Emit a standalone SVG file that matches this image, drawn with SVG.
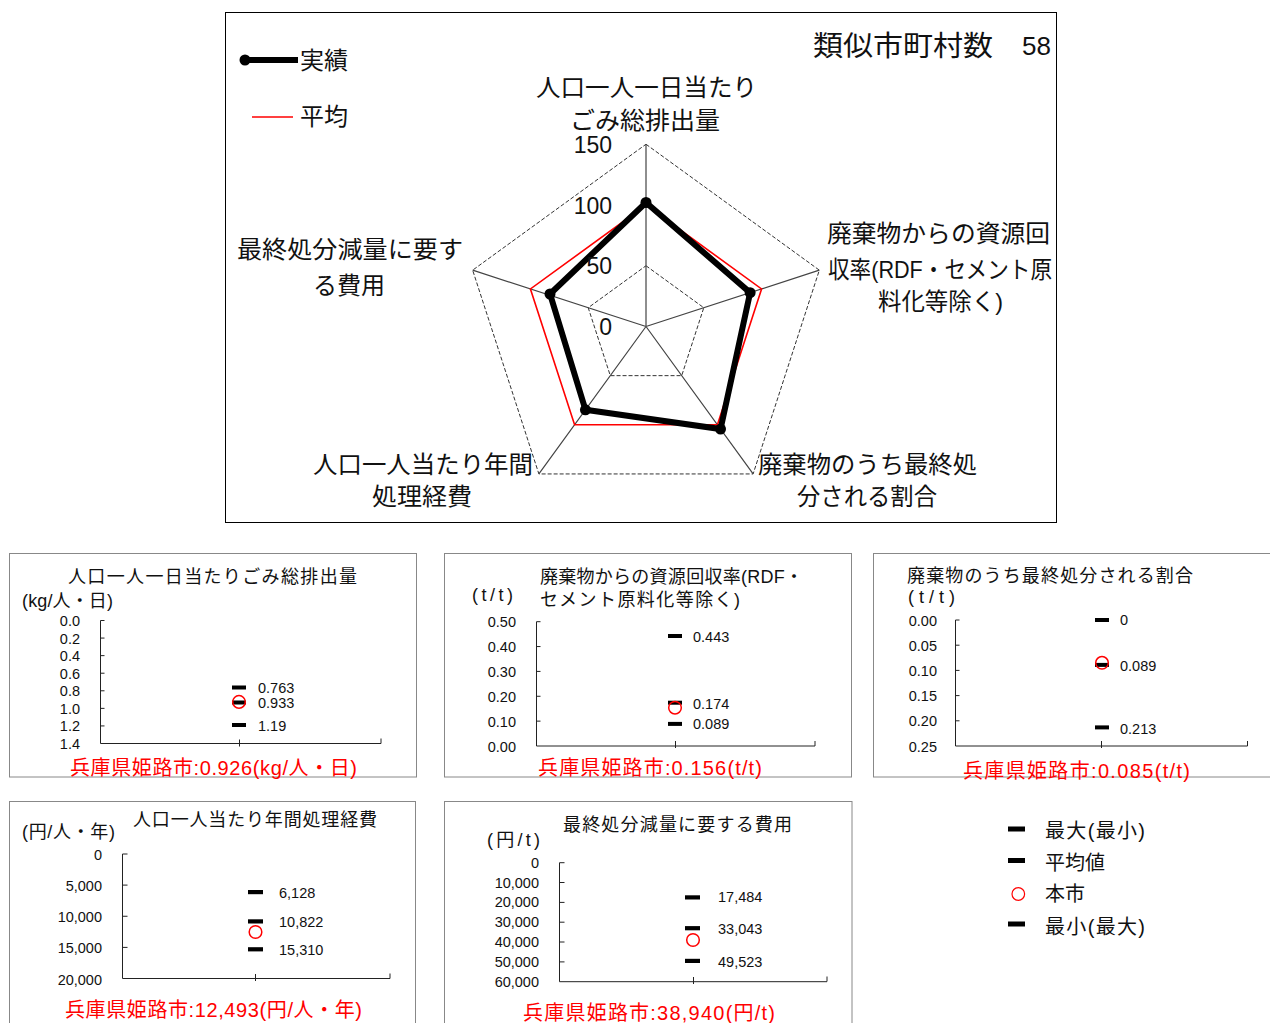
<svg xmlns="http://www.w3.org/2000/svg" width="1270" height="1023" viewBox="0 0 1270 1023">
<style>
text{font-family:"Liberation Sans","Noto Sans CJK JP",sans-serif;fill:#111}
.rl{font-size:24px}
.tk{font-size:23px;text-anchor:end}
.pt{font-size:18px}
.yl{font-size:14.5px;text-anchor:end}
.vl{font-size:14.5px}
.cap{font-size:20px;fill:#ff0000}
.lg{font-size:20px}
.frame{fill:#fff;stroke:#888;stroke-width:1}
.ax{stroke:#222;stroke-width:1;fill:none}
.bar{fill:#000}
.me{fill:none;stroke:#ff0000;stroke-width:1.5}
.spoke{stroke:#444;stroke-width:1.2;fill:none}
.grid{stroke:#333;stroke-width:1;stroke-dasharray:4 2;fill:none}
</style>
<rect width="1270" height="1023" fill="#fff"/>

<g id="radar">
<rect x="225.5" y="12.5" width="831" height="510" fill="#fff" stroke="#000" stroke-width="1"/>
<g id="radar-grid">
<polygon class="grid" points="646,144.25 819.34,270.18 753.12,473.94 538.88,473.94 472.66,270.18"/>
<polygon class="grid" points="646,265.75 703.78,307.73 681.71,375.65 610.29,375.65 588.22,307.73"/>
<path class="spoke" d="M646,326.5L646,144.25M646,326.5L819.34,270.18M646,326.5L753.12,473.94M646,326.5L538.88,473.94M646,326.5L472.66,270.18"/>
</g>
<g id="radar-average">
<polygon points="646,205 761.56,288.96 717.42,424.79 574.58,424.79 530.44,288.96" fill="none" stroke="#ff0000" stroke-width="1.6"/>
</g>
<g id="radar-actual">
<polygon points="646,202.5 750.14,292.66 720.53,429.08 585.46,409.83 550,294" fill="none" stroke="#000" stroke-width="6" stroke-linejoin="miter"/>
<g fill="#000">
<circle cx="646" cy="202.5" r="5.5"/>
<circle cx="750.14" cy="292.66" r="5.5"/>
<circle cx="720.53" cy="429.08" r="5.5"/>
<circle cx="585.46" cy="409.83" r="5.5"/>
<circle cx="550" cy="294" r="5.5"/>
</g>
</g>
<g id="radar-ticks">
<text class="tk" x="612" y="152.7">150</text>
<text class="tk" x="612" y="213.5">100</text>
<text class="tk" x="612" y="273.5">50</text>
<text class="tk" x="612" y="335">0</text>
</g>
<g id="radar-labels">
<text class="rl" x="536" y="96" textLength="221" lengthAdjust="spacingAndGlyphs">人口一人一日当たり</text>
<text class="rl" x="570" y="129" textLength="150" lengthAdjust="spacingAndGlyphs">ごみ総排出量</text>
<text class="rl" x="827" y="242" textLength="223" lengthAdjust="spacingAndGlyphs">廃棄物からの資源回</text>
<text class="rl" x="828" y="278" textLength="224" lengthAdjust="spacingAndGlyphs">収率(RDF・セメント原</text>
<text class="rl" x="878" y="310" textLength="125" lengthAdjust="spacingAndGlyphs">料化等除く)</text>
<text class="rl" x="758" y="473" textLength="219" lengthAdjust="spacingAndGlyphs">廃棄物のうち最終処</text>
<text class="rl" x="797" y="505" textLength="140" lengthAdjust="spacingAndGlyphs">分される割合</text>
<text class="rl" x="313" y="473" textLength="220" lengthAdjust="spacingAndGlyphs">人口一人当たり年間</text>
<text class="rl" x="372" y="505" textLength="100" lengthAdjust="spacingAndGlyphs">処理経費</text>
<text class="rl" x="237" y="258" textLength="226" lengthAdjust="spacingAndGlyphs">最終処分減量に要す</text>
<text class="rl" x="313" y="294" textLength="72" lengthAdjust="spacingAndGlyphs">る費用</text>
</g>
<g id="radar-legend">
<line x1="245" y1="60" x2="298" y2="60" stroke="#000" stroke-width="6"/>
<circle cx="245" cy="60" r="5.5" fill="#000"/>
<text x="300" y="69" style="font-size:24px" textLength="48" lengthAdjust="spacingAndGlyphs">実績</text>
<line x1="252" y1="117" x2="293" y2="117" stroke="#ff0000" stroke-width="1.6"/>
<text x="300" y="125" style="font-size:24px" textLength="48" lengthAdjust="spacingAndGlyphs">平均</text>
</g>
<g id="radar-title">
<text x="813" y="55.5" style="font-size:28px" textLength="180" lengthAdjust="spacingAndGlyphs">類似市町村数</text>
<text x="1022" y="55" style="font-size:26px">58</text>
</g>
</g>

<g id="panel-waste">
<rect class="frame" x="9.5" y="553.5" width="407" height="223.5"/>
<text class="pt" x="68" y="582.5" textLength="289" lengthAdjust="spacing">人口一人一日当たりごみ総排出量</text>
<text class="pt" x="22" y="607" textLength="91" lengthAdjust="spacing">(kg/人・日)</text>
<path class="ax" d="M100.5,620.5V743.5H381M100.5,620.5h4M100.5,638.07h4M100.5,655.64h4M100.5,673.21h4M100.5,690.79h4M100.5,708.36h4M100.5,725.93h4M239.5,739.5v7M381,738.5v5"/>
<text class="yl" x="80" y="626">0.0</text>
<text class="yl" x="80" y="643.6">0.2</text>
<text class="yl" x="80" y="661.1">0.4</text>
<text class="yl" x="80" y="678.7">0.6</text>
<text class="yl" x="80" y="696.3">0.8</text>
<text class="yl" x="80" y="713.9">1.0</text>
<text class="yl" x="80" y="731.4">1.2</text>
<text class="yl" x="80" y="749">1.4</text>
<rect class="bar" x="232" y="685.5" width="14" height="4"/>
<rect class="bar" x="232" y="700.5" width="14" height="4"/>
<rect class="bar" x="232" y="723" width="14" height="4"/>
<circle class="me" cx="239" cy="701.9" r="6.3"/>
<text class="vl" x="258" y="693.3">0.763</text>
<text class="vl" x="258" y="707.7">0.933</text>
<text class="vl" x="258" y="731">1.19</text>
<text class="cap" x="70" y="775" textLength="287" lengthAdjust="spacing">兵庫県姫路市:0.926(kg/人・日)</text>
</g>

<g id="panel-recycle">
<rect class="frame" x="444.5" y="553.5" width="407" height="223.5"/>
<text class="pt" x="540" y="583" textLength="263" lengthAdjust="spacing">廃棄物からの資源回収率(RDF・</text>
<text class="pt" x="540" y="606" textLength="200" lengthAdjust="spacing">セメント原料化等除く)</text>
<text class="pt" x="472" y="601" textLength="41" lengthAdjust="spacing">(t/t)</text>
<path class="ax" d="M536.5,621.7V746H815M536.5,621.7h4M536.5,646.56h4M536.5,671.42h4M536.5,696.28h4M536.5,721.14h4M675.5,741v7M815,741v5"/>
<text class="yl" x="516" y="627.2">0.50</text>
<text class="yl" x="516" y="652.1">0.40</text>
<text class="yl" x="516" y="676.9">0.30</text>
<text class="yl" x="516" y="701.8">0.20</text>
<text class="yl" x="516" y="726.6">0.10</text>
<text class="yl" x="516" y="751.5">0.00</text>
<rect class="bar" x="668" y="634" width="14" height="4"/>
<rect class="bar" x="668" y="700.7" width="14" height="4"/>
<rect class="bar" x="668" y="721.9" width="14" height="4"/>
<circle class="me" cx="675" cy="707.7" r="6.3"/>
<text class="vl" x="693" y="641.7">0.443</text>
<text class="vl" x="693" y="709">0.174</text>
<text class="vl" x="693" y="729.3">0.089</text>
<text class="cap" x="538" y="775" textLength="224" lengthAdjust="spacing">兵庫県姫路市:0.156(t/t)</text>
</g>

<g id="panel-landfill">
<rect class="frame" x="873.5" y="553.5" width="410" height="223.5"/>
<text class="pt" x="907" y="582" textLength="286" lengthAdjust="spacing">廃棄物のうち最終処分される割合</text>
<text class="pt" x="908" y="603" textLength="47" lengthAdjust="spacing">(t/t)</text>
<path class="ax" d="M955.5,620V746H1247.5M955.5,620h4M955.5,645.2h4M955.5,670.4h4M955.5,695.6h4M955.5,720.8h4M1101.5,741v7M1247.5,741v5"/>
<text class="yl" x="937" y="625.5">0.00</text>
<text class="yl" x="937" y="650.7">0.05</text>
<text class="yl" x="937" y="675.9">0.10</text>
<text class="yl" x="937" y="701.1">0.15</text>
<text class="yl" x="937" y="726.3">0.20</text>
<text class="yl" x="937" y="751.5">0.25</text>
<rect class="bar" x="1095" y="618" width="14" height="4"/>
<rect class="bar" x="1095" y="662.9" width="14" height="4"/>
<rect class="bar" x="1095" y="725.4" width="14" height="4"/>
<circle class="me" cx="1102" cy="662.8" r="6.3"/>
<text class="vl" x="1120" y="625.3">0</text>
<text class="vl" x="1120" y="671">0.089</text>
<text class="vl" x="1120" y="733.7">0.213</text>
<text class="cap" x="963" y="778" textLength="227" lengthAdjust="spacing">兵庫県姫路市:0.085(t/t)</text>
</g>

<g id="panel-cost">
<rect class="frame" x="9.5" y="801.5" width="406" height="230"/>
<text class="pt" x="133" y="825.5" textLength="244" lengthAdjust="spacing">人口一人当たり年間処理経費</text>
<text class="pt" x="22" y="838" textLength="93" lengthAdjust="spacing">(円/人・年)</text>
<path class="ax" d="M122.5,854V978.5H390M122.5,854h5M122.5,885.1h5M122.5,916.25h5M122.5,947.4h5M255.5,974v7M390,973.5v5"/>
<text class="yl" x="102" y="860">0</text>
<text class="yl" x="102" y="891">5,000</text>
<text class="yl" x="102" y="922">10,000</text>
<text class="yl" x="102" y="953">15,000</text>
<text class="yl" x="102" y="984.5">20,000</text>
<rect class="bar" x="248" y="890" width="15" height="4.2"/>
<rect class="bar" x="248" y="919.3" width="15" height="4.2"/>
<rect class="bar" x="248" y="947.2" width="15" height="4.2"/>
<circle class="me" cx="255.5" cy="932" r="6.3"/>
<text class="vl" x="279" y="897.7">6,128</text>
<text class="vl" x="279" y="926.7">10,822</text>
<text class="vl" x="279" y="955">15,310</text>
<text class="cap" x="65" y="1017" textLength="297" lengthAdjust="spacing">兵庫県姫路市:12,493(円/人・年)</text>
</g>

<g id="panel-reduction">
<rect class="frame" x="444.5" y="801.5" width="407.5" height="230"/>
<text class="pt" x="563" y="831" textLength="229" lengthAdjust="spacing">最終処分減量に要する費用</text>
<text class="pt" x="487" y="846" textLength="53" lengthAdjust="spacing">(円/t)</text>
<path class="ax" d="M559.5,862.7V981.7H827M559.5,862.7h5M559.5,882.5h5M559.5,902.4h5M559.5,922.2h5M559.5,942h5M559.5,961.9h5M693.5,977v7M827,976.5v5"/>
<text class="yl" x="539" y="867.5">0</text>
<text class="yl" x="539" y="887.5">10,000</text>
<text class="yl" x="539" y="907.4">20,000</text>
<text class="yl" x="539" y="927.2">30,000</text>
<text class="yl" x="539" y="947">40,000</text>
<text class="yl" x="539" y="966.9">50,000</text>
<text class="yl" x="539" y="987.2">60,000</text>
<rect class="bar" x="685" y="895.3" width="15" height="4.2"/>
<rect class="bar" x="685" y="926.1" width="15" height="4.2"/>
<rect class="bar" x="685" y="958.8" width="15" height="4.2"/>
<circle class="me" cx="693" cy="940" r="6.3"/>
<text class="vl" x="718" y="902">17,484</text>
<text class="vl" x="718" y="934">33,043</text>
<text class="vl" x="718" y="966.7">49,523</text>
<text class="cap" x="523" y="1020" textLength="252" lengthAdjust="spacing">兵庫県姫路市:38,940(円/t)</text>
</g>

<g id="legend">
<rect class="bar" x="1008" y="826.5" width="17" height="5"/>
<rect class="bar" x="1008" y="858" width="17" height="5"/>
<circle cx="1018.3" cy="894" r="6.3" fill="none" stroke="#ff0000" stroke-width="1.2"/>
<rect class="bar" x="1008" y="921.5" width="17" height="5"/>
<text class="lg" x="1045" y="837.5" textLength="100" lengthAdjust="spacing">最大(最小)</text>
<text class="lg" x="1045" y="870" textLength="60" lengthAdjust="spacing">平均値</text>
<text class="lg" x="1045" y="901" textLength="40" lengthAdjust="spacing">本市</text>
<text class="lg" x="1045" y="933.5" textLength="100" lengthAdjust="spacing">最小(最大)</text>
</g>
</svg>
